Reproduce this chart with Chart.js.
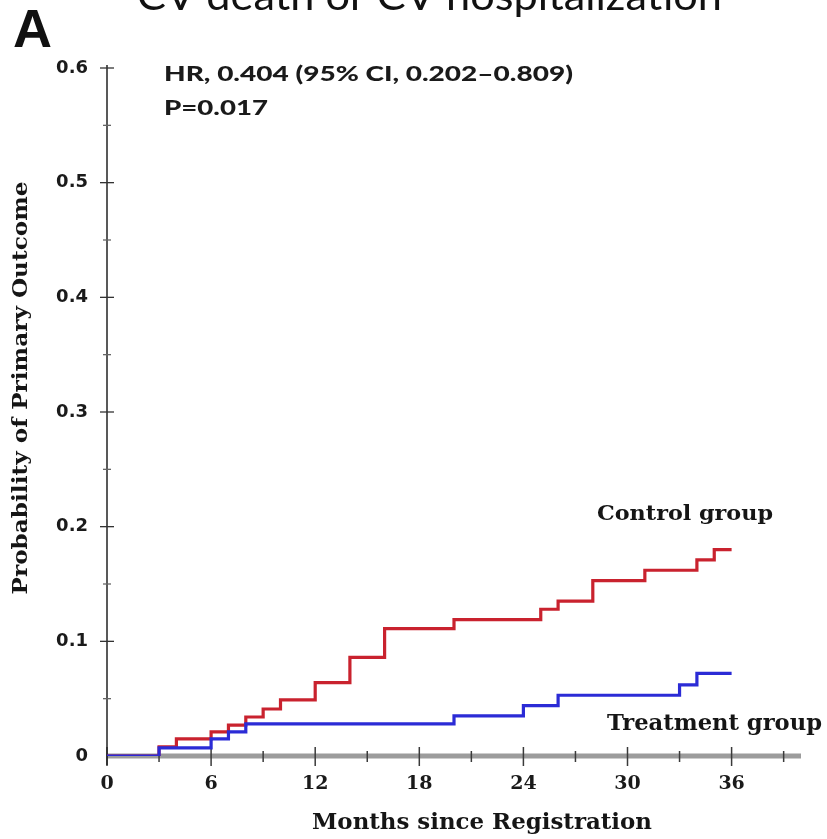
<!DOCTYPE html>
<html><head><meta charset="utf-8">
<script src="https://cdn.jsdelivr.net/npm/chart.js@4"></script>
<style>html,body{margin:0;padding:0;background:#fff;} #wrap{width:827px;height:839px;}</style>
</head><body><div id="wrap"><canvas id="c" width="827" height="839"></canvas></div>
<script>
// ---- data ----
const chartTitle = 'CV death or CV hospitalization';
const panelLetter = 'A';
const hrText = 'HR, 0.404 (95% CI, 0.202\u20130.809)';
const pText = 'P=0.017';
const xAxisTitle = 'Months since Registration';
const yAxisTitle = 'Probability of Primary Outcome';
const seriesNames = ['Treatment group', 'Control group'];
const controlMonths = [0, 3, 4, 6, 7, 8, 9, 10, 12, 14, 16, 20, 25, 26, 28, 31, 34, 35, 36];
const controlProb   = [0, 0.008, 0.015, 0.021, 0.027, 0.034, 0.041, 0.049, 0.064, 0.086, 0.111, 0.119, 0.128, 0.135, 0.153, 0.162, 0.171, 0.180, 0.180];
const treatMonths = [0, 3, 6, 7, 8, 20, 24, 26, 33, 34, 36];
const treatProb   = [0, 0.007, 0.015, 0.021, 0.028, 0.035, 0.044, 0.053, 0.062, 0.072, 0.072];
const xTickLabels = ['0', '6', '12', '18', '24', '30', '36'];
const yTickLabels = ['0', '0.1', '0.2', '0.3', '0.4', '0.5', '0.6'];
const X_MAX = 40;
const Y_MAX = 0.6;

const toPoints = (xs, ys) => xs.map((m, i) => ({ x: m, y: ys[i] }));

function drawFitted(ctx, text, x, y, font, width, align, baseline) {
  ctx.save();
  ctx.font = font;
  const w = ctx.measureText(text).width;
  ctx.translate(x, y);
  ctx.scale(width / w, 1);
  ctx.textAlign = align || 'left';
  ctx.textBaseline = baseline || 'alphabetic';
  ctx.fillText(text, 0, 0);
  ctx.restore();
}

const axesPlugin = {
  id: 'kmAxes',
  beforeDatasetsDraw(chart) {
    const { ctx, scales: { x, y } } = chart;
    const x0 = x.getPixelForValue(0), y0 = y.getPixelForValue(0);
    ctx.save();
    // x axis bar
    ctx.strokeStyle = '#9c9c9c';
    ctx.lineWidth = 5;
    ctx.beginPath(); ctx.moveTo(x0, y0); ctx.lineTo(x.getPixelForValue(X_MAX), y0); ctx.stroke();
    // x ticks every 3 months
    ctx.strokeStyle = '#3a3a3a';
    ctx.lineWidth = 1.5;
    for (let m = 0; m < X_MAX; m += 3) {
      const px = x.getPixelForValue(m);
      const major = m % 6 === 0;
      ctx.beginPath();
      ctx.moveTo(px, y0 - (major ? 9 : 5));
      ctx.lineTo(px, y0 + (major ? 10 : 6));
      ctx.stroke();
    }
    // y axis line
    ctx.strokeStyle = '#222';
    ctx.lineWidth = 1.5;
    ctx.beginPath(); ctx.moveTo(x0, y0 + 9); ctx.lineTo(x0, y.getPixelForValue(Y_MAX) - 3); ctx.stroke();
    // y ticks every 0.05
    ctx.lineWidth = 1.3;
    for (let k = 1; k <= 12; k++) {
      const py = y.getPixelForValue(k * 0.05);
      const L = k % 2 === 0 ? 7 : 4;
      ctx.strokeStyle = k % 2 === 0 ? '#333' : '#666';
      ctx.beginPath(); ctx.moveTo(x0 - L, py); ctx.lineTo(x0 + L, py); ctx.stroke();
    }
    ctx.restore();
  },
  afterDraw(chart) {
    const { ctx } = chart;
    ctx.save();
    ctx.fillStyle = '#111';
    // cut-off main title
    drawFitted(ctx, chartTitle, 137, 10, '40px Lato', 585, 'left');
    // panel letter
    ctx.font = 'bold 54px "Liberation Sans"';
    ctx.textAlign = 'left'; ctx.textBaseline = 'alphabetic';
    ctx.fillText(panelLetter, 13, 47);
    // HR and P
    ctx.fillStyle = '#1a1a1a';
    drawFitted(ctx, hrText, 164, 81, '900 21px Lato', 409, 'left');
    drawFitted(ctx, pText, 164, 115, '900 21px Lato', 104, 'left');
    // series labels
    ctx.fillStyle = '#151515';
    drawFitted(ctx, seriesNames[1], 597, 520, 'bold 21px "DejaVu Serif"', 176, 'left');
    drawFitted(ctx, seriesNames[0], 607, 730, 'bold 22px "DejaVu Serif"', 215, 'left');
    // axis titles
    drawFitted(ctx, xAxisTitle, 482, 829, 'bold 22px "DejaVu Serif"', 340, 'center');
    ctx.save();
    ctx.translate(22, 388);
    ctx.rotate(-Math.PI / 2);
    drawFitted(ctx, yAxisTitle, 0, 0, 'bold 21px "DejaVu Serif"', 413, 'center', 'middle');
    ctx.restore();
    ctx.restore();
  }
};

new Chart(document.getElementById('c'), {
  type: 'line',
  data: {
    datasets: [
      { label: seriesNames[0], data: toPoints(treatMonths, treatProb), borderColor: '#2b2bd6', borderWidth: 3.2, stepped: true, pointRadius: 0, fill: false },
      { label: seriesNames[1], data: toPoints(controlMonths, controlProb), borderColor: '#c9222e', borderWidth: 3.2, stepped: true, pointRadius: 0, fill: false }
    ]
  },
  options: {
    responsive: false,
    animation: false,
    layout: { padding: { top: 68, right: 26, bottom: 0, left: 0 } },
    plugins: { legend: { display: false }, tooltip: { enabled: false }, title: { display: false } },
    scales: {
      x: {
        type: 'linear', min: 0, max: X_MAX,
        grid: { display: false, drawTicks: false }, border: { display: false },
        afterBuildTicks: a => { a.ticks = xTickLabels.map(v => ({ value: Number(v) })); },
        afterFit: s => { s.height = 83; },
        ticks: { padding: 17, autoSkip: false, maxRotation: 0, color: '#1a1a1a',
          font: { family: 'DejaVu Serif', weight: 'bold', size: 19 },
          callback: (v, i) => xTickLabels[i] }
      },
      y: {
        type: 'linear', min: 0, max: Y_MAX,
        grid: { display: false, drawTicks: false }, border: { display: false },
        afterBuildTicks: a => { a.ticks = yTickLabels.map(v => ({ value: Number(v) })); },
        afterFit: s => { s.width = 107; },
        ticks: { padding: 19, autoSkip: false, color: '#1a1a1a',
          font: { family: 'DejaVu Sans', weight: 'bold', size: 18 },
          callback: (v, i) => yTickLabels[i] }
      }
    }
  },
  plugins: [axesPlugin]
});
</script>
</body></html>
